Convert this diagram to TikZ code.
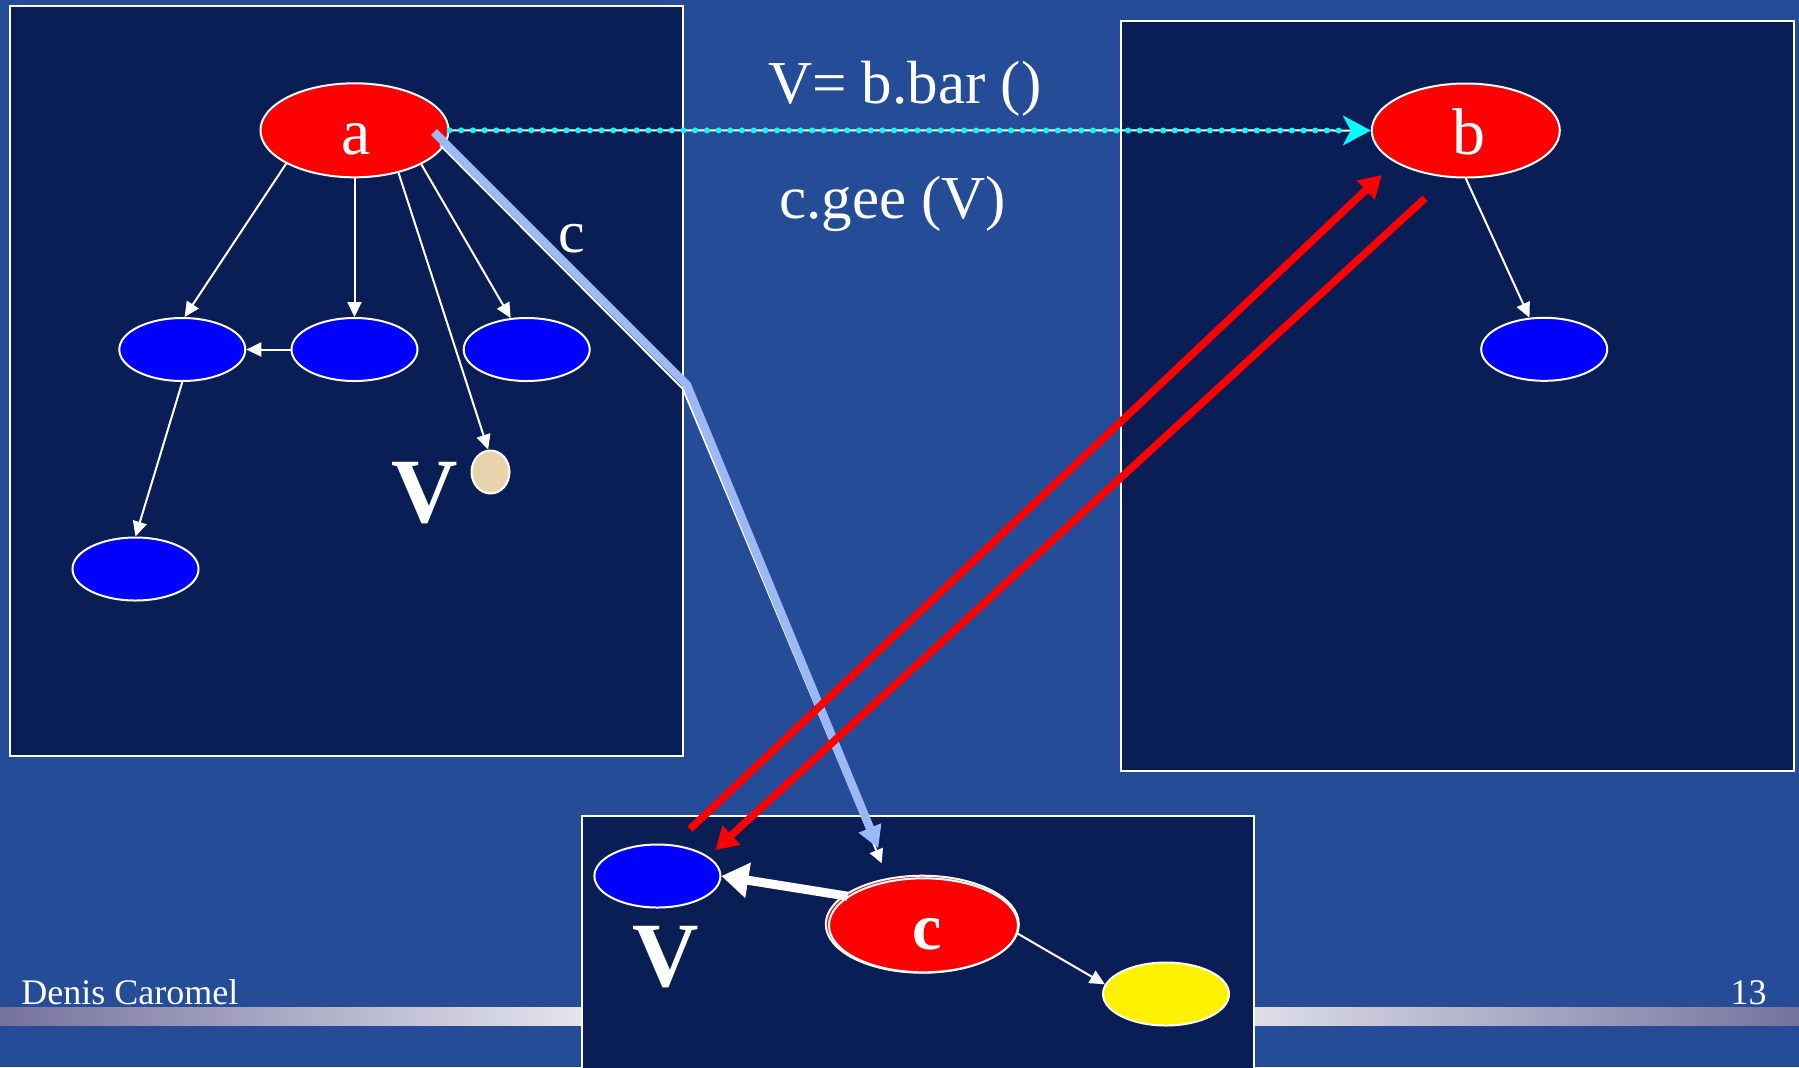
\documentclass[tikz,border=0pt]{standalone}
\usepackage{fontspec}
\setmainfont{Liberation Serif}
\usetikzlibrary{arrows.meta,shapes.geometric,calc}
\definecolor{bgblue}{RGB}{36,76,151}
\definecolor{navy}{RGB}{10,30,86}
\definecolor{lightblue}{RGB}{157,185,245}
\definecolor{tanball}{RGB}{232,211,175}
\definecolor{barpurple}{RGB}{117,113,157}
\definecolor{barwhite}{RGB}{236,235,241}
\definecolor{dotcyan}{RGB}{0,255,255}
\tikzset{
  box/.style={fill=navy, draw=white, line width=1pt},
  blob/.style={ellipse, draw=white, line width=1pt, inner sep=0pt},
  smallobj/.style={blob, fill=blue, minimum width=63pt, minimum height=31.5pt},
  bigobj/.style={blob, fill=red, minimum width=94pt, minimum height=47pt},
  lab/.style={text=white, inner sep=0pt, anchor=base},
  refarrow/.style={white, line width=1pt, -{Triangle[length=7.5pt,width=7pt]}},
  redarrow/.style={red, line width=3.75pt, -{Triangle[length=11pt,width=12.5pt]}},
}
\begin{document}
\begin{tikzpicture}[x=0.5pt,y=-0.5pt]
\fill[bgblue] (0,0) rectangle (1799,1067);
\useasboundingbox (0,0) rectangle (1799,1067);
% footer bar
\shade[left color=barpurple,right color=barwhite] (0,1007) rectangle (615,1025);
\fill[barwhite] (614,1007) rectangle (1187,1025);
\shade[left color=barwhite,right color=barpurple] (1186,1007) rectangle (1799,1025);
\node[lab, anchor=base west, font=\fontsize{18pt}{18pt}\selectfont] (author) at (21,1004.3) {Denis Caromel};
\node[lab, anchor=base east, font=\fontsize{18pt}{18pt}\selectfont] (page) at (1767,1004.3) {13};
% boxes
\draw[box] (10,6) rectangle (683,756);
\draw[box] (1121,21) rectangle (1794,771);
\draw[box] (582,816) rectangle (1254,1075);
% objects
\node[bigobj] (a) at (354.5,130.3) {};
\node[bigobj] (b) at (1465.8,130.5) {};
\node[smallobj] (e1) at (182.3,349.5) {};
\node[smallobj] (e2) at (354.5,349.5) {};
\node[smallobj] (e3) at (526.7,349.5) {};
\node[smallobj] (e4) at (135.5,569) {};
\node[smallobj] (bchild) at (1544.2,349.3) {};
\node[blob, fill=tanball, minimum width=19pt, minimum height=21.5pt] (v) at (490.5,472) {};
\node[smallobj] (vb) at (657.4,876) {};
\node[smallobj, fill=yellow] (y) at (1166,994) {};
\node[bigobj, minimum width=96.5pt, minimum height=48.5pt] (cout) at (922.3,924.2) {};
\node[bigobj, minimum width=94.5pt, minimum height=47pt] (c) at (923.5,925.3) {};
% labels
\node[lab, font=\fontsize{33pt}{33pt}\selectfont] (la) at (356,154) {a};
\node[lab, font=\fontsize{33pt}{33pt}\selectfont] (lb) at (1469,154) {b};
\node[lab, font=\fontsize{33pt}{33pt}\selectfont\bfseries] (lc) at (927,949.3) {c};
\node[lab, font=\fontsize{46pt}{46pt}\selectfont\bfseries] (lv1) at (424.3,522.7) {V};
\node[lab, font=\fontsize{46pt}{46pt}\selectfont\bfseries] (lv2) at (666,986.7) {V};
\node[lab, font=\fontsize{30.5pt}{30.5pt}\selectfont] (call1) at (904.8,103.3) {V= b.bar ()};
\node[lab, font=\fontsize{30.5pt}{30.5pt}\selectfont] (call2) at (892.7,218.3) {c.gee (V)};
% reference edges
\draw[refarrow] (a.206.8) -- (e1.86);
\draw[refarrow] (a.south) -- (e2.north);
\draw[refarrow] (a.316) -- (v.96);
\draw[refarrow] (a.333) -- (e3.117);
\draw[refarrow] (e2.west) -- (e1.east);
\draw[refarrow] (e1.south) -- (e4.north);
\draw[refarrow] (b.south) -- (bchild.115);
\draw[refarrow] (c.355) -- (y.171);
\draw[white, line width=4.5pt, -{Triangle[length=13.5pt,width=17pt]}] (c.159) -- (vb.east);
% reference c from a (white + light blue)
\coordinate (ws) at (440,145);
\coordinate (wk) at (683,389);
\coordinate (we) at (881.7,863.3);
\coordinate (lbs) at (434,132);
\coordinate (lbk) at (687,385);
\coordinate (lbe) at (878.3,848.3);
\draw[white, line width=1pt, -{Triangle[length=7pt,width=7pt]}] (ws) -- (wk) -- (we);
\draw[lightblue, line width=4.2pt, -{Triangle[length=11pt,width=11.5pt]}] (lbs) -- (lbk) -- (lbe);
\node[lab, font=\fontsize{30pt}{30pt}\selectfont] (lcref) at (572,252.7) {c};
% call arrow a -> b
\draw[white, line width=1pt, -{Stealth[length=14pt,width=15pt,inset=4pt,color=dotcyan,fill=dotcyan]}] (a.east) -- (b.west);
\draw[dotcyan, line width=3pt, line cap=round, dash pattern=on 0pt off 5.85pt, shorten >=14pt] (a.east) -- (b.west);
% red arrows
\coordinate (r1s) at (690,829);
\coordinate (r1e) at (1381.7,175);
\coordinate (r2s) at (1425,198.3);
\coordinate (r2e) at (715.3,850);
\draw[redarrow] (r1s) -- (r1e);
\draw[redarrow] (r2s) -- (r2e);
\end{tikzpicture}
\end{document}
